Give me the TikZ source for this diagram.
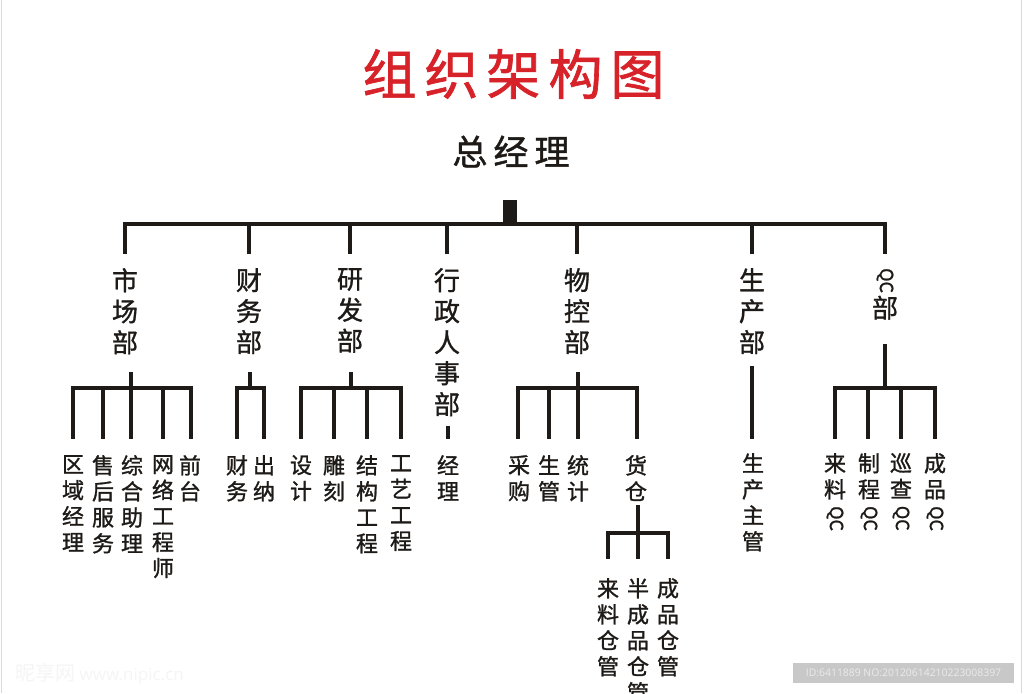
\documentclass[tikz,border=0pt]{standalone}
\usepackage{fontspec}
\usepackage{graphicx}
\newfontfamily\cjk{Noto Sans CJK SC}
\newfontfamily\cjkb[FakeBold=1.2]{Noto Sans CJK SC}
\newfontfamily\idfont{Open Sans}
\definecolor{titlered}{RGB}{214,34,40}
\definecolor{ink}{RGB}{30,26,23}
\definecolor{idgray}{RGB}{200,200,200}
\newcommand{\rqc}{\rotatebox[origin=c]{-90}{\fontsize{18}{18}\selectfont QC}}
\tikzset{
  conn/.style={draw=ink, line width=3.6pt, line join=miter, line cap=rect},
  dept/.style={font=\cjkb\fontsize{26}{31}\selectfont, align=center, inner sep=0pt, anchor=north, text=ink},
  sublbl/.style={font=\cjkb\fontsize{22}{26}\selectfont, align=center, inner sep=0pt, anchor=north, text=ink},
}
\begin{document}
\begin{tikzpicture}[x=1pt,y=-1pt]
\useasboundingbox (0,0) rectangle (1024,693);
\fill[white] (0,0) rectangle (1024,693);
\draw[gray!30, line width=1pt] (1,0) -- (1,693);
\draw[gray!30, line width=1pt] (1021,0) -- (1021,693);

% title
\node[font=\cjkb\fontsize{54}{54}\selectfont, text=titlered, inner sep=0pt] (title) at (513.5,74)
  {组\kern8pt 织\kern8pt 架\kern8pt 构\kern8pt 图};
\node[font=\cjkb\fontsize{35}{35}\selectfont, text=ink, inner sep=0pt] (gm) at (511,151.5)
  {总\kern6pt 经\kern6pt 理};

% top junction
\fill[ink] (503,200) rectangle (517,224);
\coordinate (hub) at (510,224);
\coordinate (tl) at (125,224);
\coordinate (tr) at (885,224);
\draw[conn] (125,252) -- (tl) -- (tr) -- (885,252);
\foreach \x in {249,350,447,577,752} \draw[conn] (\x,224) -- (\x,252);

% departments
\node[dept] (sc) at (125,268) {市\\场\\部};
\node[dept] (cw) at (249,268) {财\\务\\部};
\node[dept] (yf) at (350,268) {研\\发\\部};
\node[dept] (xz) at (447,268) {行\\政\\人\\事\\部};
\node[dept] (wk) at (577,268) {物\\控\\部};
\node[dept] (sccb) at (752,268) {生\\产\\部};
\node[dept] (qc) at (885,268) {\rqc\\[1pt]部};

% 市场部 branch
\draw[conn] (131,374) -- (131,388);
\draw[conn] (73,437) -- (73,388) -- (191,388) -- (191,437);
\foreach \x in {103,131,163} \draw[conn] (\x,388) -- (\x,437);
\node[sublbl] (s1) at (73,455) {区\\域\\经\\理};
\node[sublbl] (s2) at (103,455) {售\\后\\服\\务};
\node[sublbl] (s3) at (132,455) {综\\合\\助\\理};
\node[sublbl] (s4) at (163,455) {网\\络\\工\\程\\师};
\node[sublbl] (s5) at (190,455) {前\\台};

% 财务部 branch
\draw[conn] (250,374) -- (250,388);
\draw[conn] (237,437) -- (237,388) -- (264,388) -- (264,437);
\node[sublbl] (c1) at (237,455) {财\\务};
\node[sublbl] (c2) at (264,455) {出\\纳};

% 研发部 branch
\draw[conn] (351,374) -- (351,388);
\draw[conn] (301,437) -- (301,388) -- (401,388) -- (401,437);
\foreach \x in {334,367} \draw[conn] (\x,388) -- (\x,437);
\node[sublbl] (y1) at (301,455) {设\\计};
\node[sublbl] (y2) at (334,455) {雕\\刻};
\node[sublbl] (y3) at (367,455) {结\\构\\工\\程};
\node[sublbl] (y4) at (401,455) {工\\艺\\工\\程};

% 行政人事部
\draw[conn] (448,428) -- (448,437);
\node[sublbl] (x1) at (448,455) {经\\理};

% 物控部 branch
\draw[conn] (578,374) -- (578,388);
\draw[conn] (518,437) -- (518,388) -- (637,388) -- (637,437);
\foreach \x in {549,578} \draw[conn] (\x,388) -- (\x,437);
\node[sublbl] (w1) at (519,455) {采\\购};
\node[sublbl] (w2) at (549,455) {生\\管};
\node[sublbl] (w3) at (578,455) {统\\计};
\node[sublbl] (w4) at (636,455) {货\\仓};

% 货仓 branch
\draw[conn] (638,507) -- (638,533);
\draw[conn] (608,557) -- (608,533) -- (668,533) -- (668,557);
\draw[conn] (638,533) -- (638,557);
\node[sublbl] (h1) at (608,578) {来\\料\\仓\\管};
\node[sublbl] (h2) at (638,578) {半\\成\\品\\仓\\管};
\node[sublbl] (h3) at (668,578) {成\\品\\仓\\管};

% 生产部
\draw[conn] (752,368) -- (752,437);
\node[sublbl] (p1) at (753,453) {生\\产\\主\\管};

% QC部 branch
\draw[conn] (885,346) -- (885,388);
\draw[conn] (835,437) -- (835,388) -- (935,388) -- (935,437);
\foreach \x in {868,901} \draw[conn] (\x,388) -- (\x,437);
\node[sublbl] (q1) at (835,453) {来\\料\\\rqc};
\node[sublbl] (q2) at (869,453) {制\\程\\\rqc};
\node[sublbl] (q3) at (901,453) {巡\\查\\\rqc};
\node[sublbl] (q4) at (935,453) {成\\品\\\rqc};

% watermarks
\fill[idgray] (793,663) rectangle (1014,683);
\node[font=\idfont\fontsize{10.4}{10.4}\selectfont, text=white!92!black, inner sep=0pt] (idtxt) at (903.5,673)
  {ID:6411889 NO:20120614210223008397};
\node[font=\cjk\fontsize{20}{20}\selectfont, text=gray!8, inner sep=0pt, anchor=west] (wm) at (15,674)
  {昵享网 \idfont\fontsize{17}{17}\selectfont www.nipic.cn};
\end{tikzpicture}
\end{document}
